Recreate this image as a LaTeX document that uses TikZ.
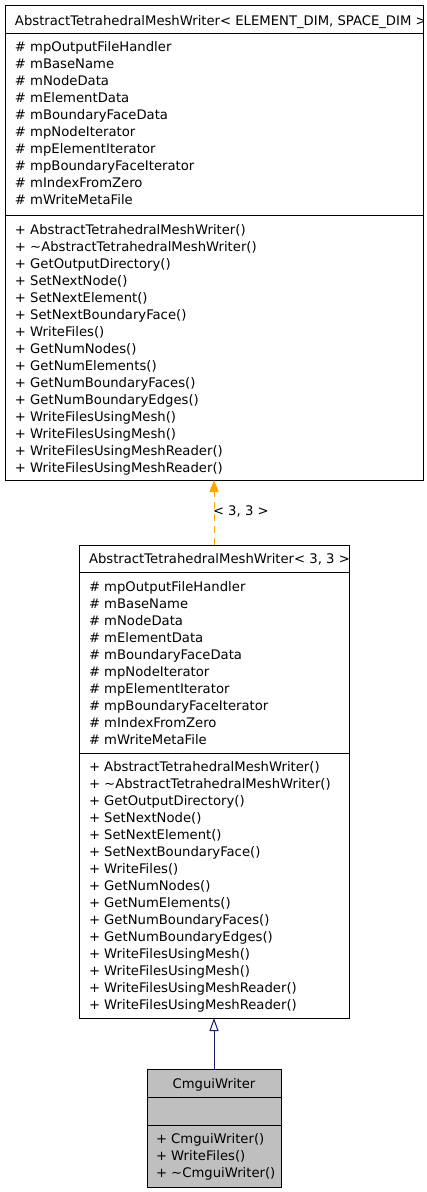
\documentclass[tikz,border=0pt]{standalone}
\usepackage{fontspec}
\usetikzlibrary{arrows.meta}
\newfontfamily\dvs{DejaVu Sans}
\definecolor{edgeorange}{HTML}{FFA500}
\definecolor{edgenavy}{HTML}{191970}
\definecolor{boxgray}{HTML}{BFBFBF}
\tikzset{
  umlbox/.style={draw=black, line width=1pt, inner sep=0pt, outer sep=0pt, anchor=north west},
  txt/.style={anchor=base west, inner sep=0pt, outer sep=0pt, font=\dvs\fontsize{13.2}{17}\selectfont},
  sepline/.style={draw=black, line width=1pt},
}
\begin{document}
\begin{tikzpicture}[x=1pt,y=-1pt]
\useasboundingbox (0,0) rectangle (427,1192);
\fill[white] (0,0) rectangle (427,1192);

% ---------- Box 1 ----------
\node[umlbox, fill=white, minimum width=418pt, minimum height=475pt] (box1) at (5,5) {};
\draw[sepline] (5,33) -- (423,33);
\draw[sepline] (5,215) -- (423,215);
\begin{scope}
\clip (5,5) rectangle (423,33);
\node[txt] (h1) at (15,25) {AbstractTetrahedralMeshWriter< ELEMENT\_DIM, SPACE\_DIM >};
\end{scope}
\foreach \t [count=\i from 0] in {mpOutputFileHandler,mBaseName,mNodeData,mElementData,mBoundaryFaceData,mpNodeIterator,mpElementIterator,mpBoundaryFaceIterator,mIndexFromZero,mWriteMetaFile}
  \node[txt] (a1-\i) at (15,51+17*\i) {\# \t};
\foreach \t [count=\i from 0] in {AbstractTetrahedralMeshWriter(),\textasciitilde AbstractTetrahedralMeshWriter(),GetOutputDirectory(),SetNextNode(),SetNextElement(),SetNextBoundaryFace(),WriteFiles(),GetNumNodes(),GetNumElements(),GetNumBoundaryFaces(),GetNumBoundaryEdges(),WriteFilesUsingMesh(),WriteFilesUsingMesh(),WriteFilesUsingMeshReader(),WriteFilesUsingMeshReader()}
  \node[txt] (m1-\i) at (15,234+17*\i) {+ \t};

% ---------- Box 2 ----------
\node[umlbox, fill=white, minimum width=270pt, minimum height=473pt] (box2) at (79,545) {};
\draw[sepline] (79,572) -- (349,572);
\draw[sepline] (79,753) -- (349,753);
\begin{scope}
\clip (79,545) rectangle (349,572);
\node[txt] (h2) at (89,563) {AbstractTetrahedralMeshWriter< 3, 3 >};
\end{scope}
\foreach \t [count=\i from 0] in {mpOutputFileHandler,mBaseName,mNodeData,mElementData,mBoundaryFaceData,mpNodeIterator,mpElementIterator,mpBoundaryFaceIterator,mIndexFromZero,mWriteMetaFile}
  \node[txt] (a2-\i) at (89,591+17*\i) {\# \t};
\foreach \t [count=\i from 0] in {AbstractTetrahedralMeshWriter(),\textasciitilde AbstractTetrahedralMeshWriter(),GetOutputDirectory(),SetNextNode(),SetNextElement(),SetNextBoundaryFace(),WriteFiles(),GetNumNodes(),GetNumElements(),GetNumBoundaryFaces(),GetNumBoundaryEdges(),WriteFilesUsingMesh(),WriteFilesUsingMesh(),WriteFilesUsingMeshReader(),WriteFilesUsingMeshReader()}
  \node[txt] (m2-\i) at (89,771+17*\i) {+ \t};

% ---------- Box 3 ----------
\node[umlbox, fill=boxgray, minimum width=134pt, minimum height=118pt] (box3) at (147,1069) {};
\draw[sepline] (147,1097) -- (281,1097);
\draw[sepline] (147,1125) -- (281,1125);
\node[txt, anchor=base] (h3) at (214,1088) {CmguiWriter};
\node[txt] (m3-0) at (156,1143) {+ CmguiWriter()};
\node[txt] (m3-1) at (156,1160) {+ WriteFiles()};
\node[txt] (m3-2) at (156,1177) {+ \textasciitilde CmguiWriter()};

% ---------- Edges ----------
\draw[edgeorange, line width=1pt, dash pattern=on 7pt off 5pt,
      -{Triangle[length=12pt,width=9pt]}] (box2.north) -- (box1.south);
\node[txt] (lbl) at (213,515) {< 3, 3 >};
\draw[edgenavy, line width=1pt,
      -{Triangle[open,length=13pt,width=9pt,fill=white]}] (box3.north) -- (box2.south);
\end{tikzpicture}
\end{document}
